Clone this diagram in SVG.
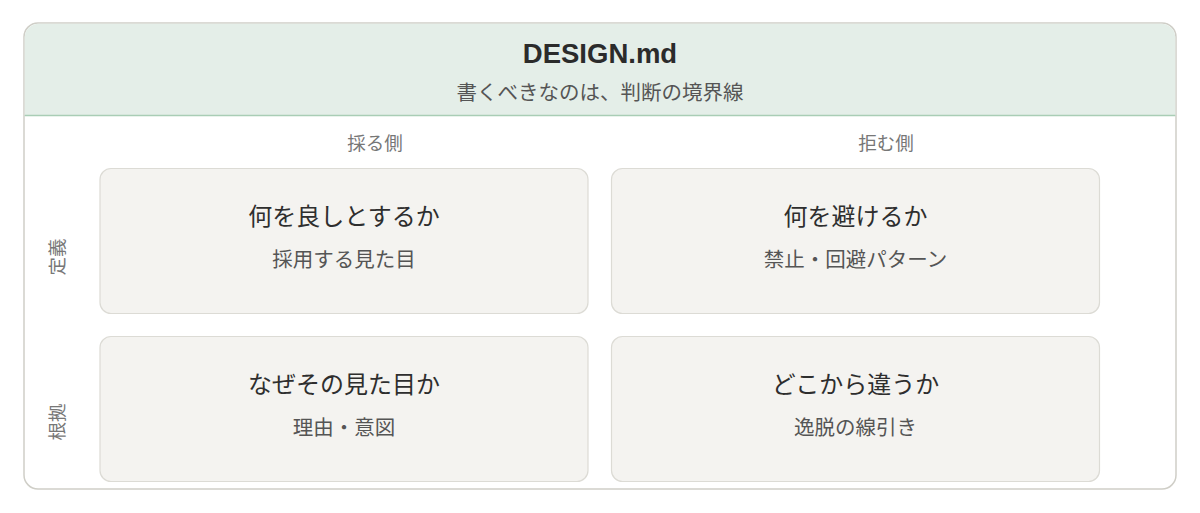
<svg xmlns="http://www.w3.org/2000/svg" width="1200" height="513" viewBox="0 0 1200 513">
<style>
text{font-family:"Noto Sans CJK JP","Noto Sans",sans-serif;text-anchor:middle}
.title{font-size:27.5px;font-weight:bold;fill:#2b2b2b;font-family:"Liberation Sans","Noto Sans",sans-serif}
.sub{font-size:20.5px;fill:#555}
.col{font-size:18.5px;fill:#777}
.cell{fill:#f4f3f0;stroke:#dcdbd5;stroke-width:1.2}
.h{font-size:24px;fill:#2e2e2e}
.s{font-size:20.5px;fill:#555}
</style>
<g id="frame">
<rect x="24" y="23" width="1152" height="466" rx="14" fill="#fff" stroke="#cfcec7" stroke-width="1.5"/>
<path d="M24.75 115 V37 A14 14 0 0 1 38.75 23.75 H1161.25 A14 14 0 0 1 1175.25 37 V115 Z" fill="#e4eee8"/>
<line x1="24.75" y1="115.5" x2="1175.25" y2="115.5" stroke="#a9cdb5" stroke-width="1.5"/>
<text class="title" x="600" y="63">DESIGN.md</text>
<text class="sub" x="600" y="100">書くべきなのは、判断の境界線</text>
</g>
<g id="headers">
<text class="col" x="375" y="150">採る側</text>
<text class="col" x="886" y="150">拒む側</text>
<text class="col" transform="translate(64,257) rotate(-90)">定義</text>
<text class="col" transform="translate(64,422) rotate(-90)">根拠</text>
</g>
<g id="n1"><rect class="cell" x="100" y="168.5" width="488" height="145" rx="11"/><text class="h" x="344" y="225">何を良しとするか</text><text class="s" x="344" y="267">採用する見た目</text></g>
<g id="n2"><rect class="cell" x="611.5" y="168.5" width="488" height="145" rx="11"/><text class="h" x="855.5" y="225">何を避けるか</text><text class="s" x="855.5" y="267">禁止・回避パターン</text></g>
<g id="n3"><rect class="cell" x="100" y="336.5" width="488" height="145" rx="11"/><text class="h" x="344" y="393">なぜその見た目か</text><text class="s" x="344" y="435">理由・意図</text></g>
<g id="n4"><rect class="cell" x="611.5" y="336.5" width="488" height="145" rx="11"/><text class="h" x="855.5" y="393">どこから違うか</text><text class="s" x="855.5" y="435">逸脱の線引き</text></g>
<g id="connectors"/>
</svg>
